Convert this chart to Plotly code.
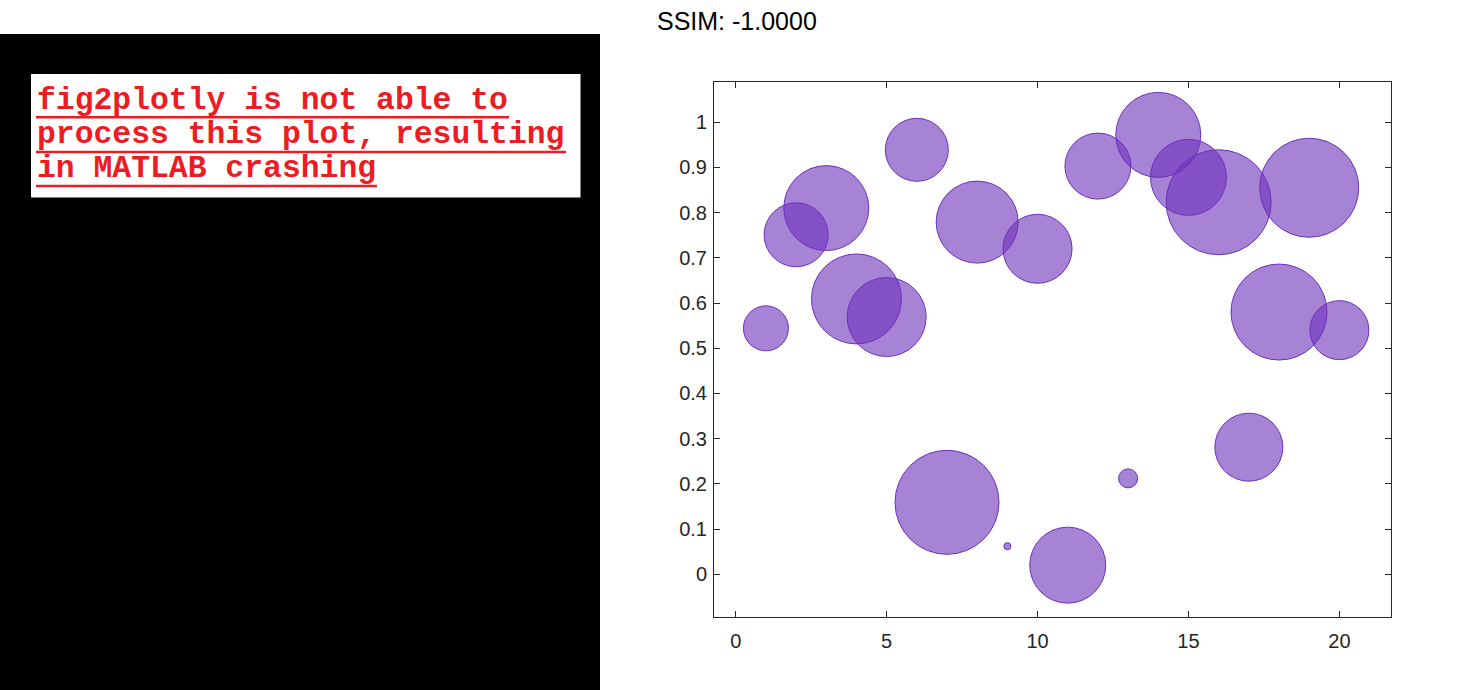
import plotly.graph_objects as go

# ---- data ----
bubble_x = list(range(1, 21))
bubble_y = [0.544, 0.751, 0.810, 0.609, 0.569, 0.939, 0.159, 0.779, 0.062, 0.720,
            0.020, 0.903, 0.212, 0.972, 0.878, 0.823, 0.281, 0.580, 0.855, 0.540]
bubble_size = [45, 64, 85, 90, 79, 63, 104, 82, 7, 69,
               76, 66, 19, 85, 76, 105, 68, 96, 99, 59]
x_ticks = [0, 5, 10, 15, 20]
y_ticks = [0, 0.1, 0.2, 0.3, 0.4, 0.5, 0.6, 0.7, 0.8, 0.9, 1]
y_tick_labels = ["0", "0.1", "0.2", "0.3", "0.4", "0.5", "0.6", "0.7", "0.8", "0.9", "1"]
title_text = "SSIM: -1.0000"
message_lines = ["fig2plotly is not able to",
                 "process this plot, resulting",
                 "in MATLAB crashing"]

# ---- layout geometry ----
W, H = 1475, 690
L, R, T, B = 714, 84, 82, 73
PW, PH = W - L - R, H - T - B


def px(x):
    return (x - L) / PW


def py(y):
    return (H - B - y) / PH


AX = "#262626"
RED = "#ED1C24"

fig = go.Figure()
fig.add_trace(go.Scatter(
    x=bubble_x, y=bubble_y, mode="markers",
    marker=dict(size=bubble_size, sizemode="diameter", opacity=1,
                color="rgba(108,48,187,0.6)",
                line=dict(color="rgb(108,48,187)", width=1)),
    hoverinfo="skip", showlegend=False))

shapes = [
    dict(type="rect", xref="paper", yref="paper",
         x0=px(0), x1=px(600), y0=py(690), y1=py(34),
         fillcolor="black", line=dict(width=0), layer="above"),
    dict(type="rect", xref="paper", yref="paper",
         x0=px(31), x1=px(580.5), y0=py(197.5), y1=py(74),
         fillcolor="white", line=dict(width=0), layer="above"),
]
underline_y = [117.3, 152.0, 186.0]
underline_x1 = [509, 566, 377]
for uy, ux in zip(underline_y, underline_x1):
    shapes.append(dict(type="line", xref="paper", yref="paper",
                       x0=px(36), x1=px(ux), y0=py(uy), y1=py(uy),
                       line=dict(color=RED, width=2.6), layer="above"))

annotations = [
    dict(text=title_text, xref="paper", yref="paper", x=px(655), y=py(21),
         xanchor="left", yanchor="middle", showarrow=False,
         font=dict(family="Liberation Sans, Arial", size=25, color="black")),
]
line_mid = [101.0, 134.6, 168.0]
for txt, ym in zip(message_lines, line_mid):
    annotations.append(dict(text="<b>" + txt + "</b>", xref="paper", yref="paper",
                            x=px(35), y=py(ym), xanchor="left", yanchor="middle",
                            showarrow=False,
                            font=dict(family="Liberation Mono, Courier New, monospace",
                                      size=31.4, color=RED)))

fig.update_layout(
    width=W, height=H, autosize=False,
    margin=dict(l=L, r=R, t=T, b=B),
    paper_bgcolor="white", plot_bgcolor="white",
    shapes=shapes, annotations=annotations,
    xaxis=dict(range=[-0.72, 21.71], tickvals=x_ticks, showgrid=False, zeroline=False,
               showline=True, linecolor=AX, linewidth=1, mirror="allticks",
               ticks="inside", ticklen=6, tickcolor=AX, tickwidth=1,
               ticklabelstandoff=6,
               tickfont=dict(family="Liberation Sans, Arial", size=20, color=AX)),
    yaxis=dict(range=[-0.0947, 1.089], tickvals=y_ticks, ticktext=y_tick_labels,
               showgrid=False, zeroline=False,
               showline=True, linecolor=AX, linewidth=1, mirror="allticks",
               ticks="inside", ticklen=6, tickcolor=AX, tickwidth=1,
               ticklabelstandoff=2,
               tickfont=dict(family="Liberation Sans, Arial", size=20, color=AX)),
)

fig.write_html("out.html", config={"displayModeBar": False},
               post_script="document.body.style.margin='0';document.body.style.overflow='hidden';")
